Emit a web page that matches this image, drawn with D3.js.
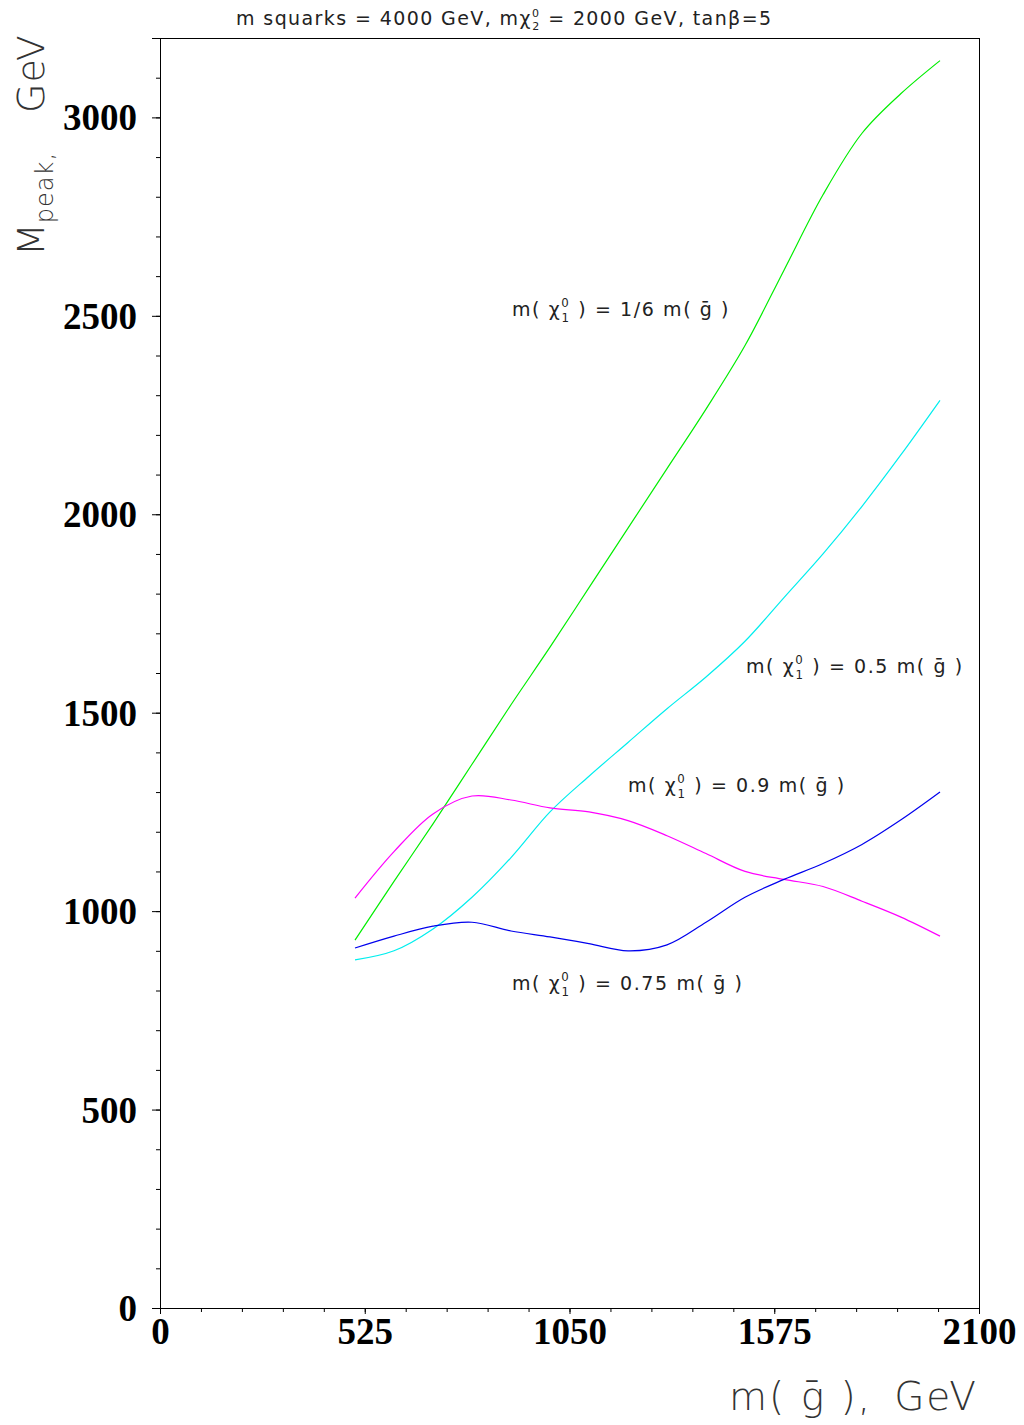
<!DOCTYPE html>
<html><head><meta charset="utf-8">
<script src="https://cdn.jsdelivr.net/npm/d3@7"></script>
<style>body{margin:0;background:#fff}svg{display:block}</style>
</head><body>
<svg id="c" width="1024" height="1425"></svg>
<script>
const gluinoMass = [500,600,700,800,900,1000,1100,1200,1300,1400,1500,1600,1700,1800,1900,2000];
const seriesSixth   = [927,1075,1220,1370,1520,1665,1815,1965,2115,2265,2425,2615,2805,2960,3060,3143];
const seriesHalf    = [877,900,955,1035,1135,1250,1340,1425,1510,1590,1680,1790,1900,2020,2150,2287];
const seriesPt9     = [1033,1150,1245,1290,1280,1260,1250,1228,1190,1145,1100,1080,1062,1025,985,937];
const seriesPt75    = [907,937,962,972,950,935,918,900,915,972,1035,1080,1120,1168,1230,1300];
const xTickLabels = [0,525,1050,1575,2100];
const yTickLabels = [0,500,1000,1500,2000,2500,3000];

const svg = d3.select("#c");
const x = d3.scaleLinear().domain([0,2100]).range([160,979]);
const y = d3.scaleLinear().domain([0,3200]).range([1308,38]);

// frame
svg.append("rect").attr("x",160).attr("y",38).attr("width",819).attr("height",1270)
  .attr("fill","none").attr("stroke","#000").attr("stroke-width",1).attr("shape-rendering","crispEdges");

// y axis
const yMinor = d3.range(0,3201,100);
svg.append("g").attr("transform","translate(160,0)")
  .call(d3.axisLeft(y).tickValues(yMinor).tickSize(4).tickFormat(""))
  .call(g=>g.select(".domain").remove());
const ya = svg.append("g").attr("transform","translate(160,0)")
  .call(d3.axisLeft(y).tickValues(yTickLabels).tickSize(8).tickPadding(15).tickFormat(d3.format("d")));
ya.select(".domain").attr("shape-rendering","crispEdges");
ya.selectAll("text").attr("font-family","'Liberation Serif','Times New Roman',serif")
  .attr("font-weight","bold").attr("font-size",37).attr("fill","#000").attr("dy","0.34em");

// x axis
const xMinor = d3.range(0,2101,105);
svg.append("g").attr("transform","translate(0,1308)")
  .call(d3.axisBottom(x).tickValues(xMinor).tickSize(4).tickFormat(""))
  .call(g=>g.select(".domain").remove());
const xa = svg.append("g").attr("transform","translate(0,1308)")
  .call(d3.axisBottom(x).tickValues(xTickLabels).tickSize(6).tickPadding(4).tickFormat(d3.format("d")));
xa.select(".domain").attr("shape-rendering","crispEdges");
xa.selectAll("text").attr("font-family","'Liberation Serif','Times New Roman',serif")
  .attr("font-weight","bold").attr("font-size",37).attr("fill","#000");

// curves
const line = d3.line().x((d,i)=>x(gluinoMass[i])).y(d=>y(d)).curve(d3.curveCatmullRom.alpha(0.5));
const curves = [
  {v:seriesSixth, c:"#00ee00"},
  {v:seriesHalf, c:"#00eeee"},
  {v:seriesPt9, c:"#ff00ff"},
  {v:seriesPt75, c:"#0000ee"}
];
curves.forEach(s=>{
  svg.append("path").attr("d",line(s.v)).attr("fill","none").attr("stroke",s.c).attr("stroke-width",1.2);
});

const FONT = "'DejaVu Sans',sans-serif";
// labels with chi
function chiLabel(xp, yp, rest, fs){
  const t = svg.append("text").attr("x",xp).attr("y",yp).attr("font-family",FONT)
    .attr("font-size",fs).attr("fill","#222").attr("letter-spacing",1.6);
  t.append("tspan").text("m( χ");
  t.append("tspan").attr("font-size",fs*0.62).attr("dy",-fs*0.45).text("0");
  t.append("tspan").attr("font-size",fs*0.62).attr("dx",-fs*0.47).attr("dy",fs*0.75).text("1");
  t.append("tspan").attr("dy",-fs*0.30).text(" ) = " + rest + " m( ḡ )");
}
chiLabel(512, 316, "1/6", 19);
chiLabel(746, 673, "0.5", 19);
chiLabel(628, 792, "0.9", 19);
chiLabel(512, 990, "0.75", 19);

// title
const tt = svg.append("text").attr("x",236).attr("y",25).attr("font-family",FONT)
  .attr("font-size",19).attr("fill","#222").attr("letter-spacing",1.4);
tt.append("tspan").text("m squarks = 4000 GeV, mχ");
tt.append("tspan").attr("font-size",11).attr("dy",-8).text("0");
tt.append("tspan").attr("font-size",11).attr("dx",-8).attr("dy",13).text("2");
tt.append("tspan").attr("dy",-5).text(" = 2000 GeV, tanβ=5");

// x axis title
const xt = svg.append("text").attr("x",978).attr("y",1410).attr("text-anchor","end")
  .attr("font-family",FONT).attr("font-size",39).attr("fill","#333").attr("font-weight","200")
  .attr("letter-spacing",2);
xt.append("tspan").text("m( ḡ ),");
xt.append("tspan").attr("dx",22).text("GeV");

// y axis title
const yt = svg.append("text").attr("transform","translate(44,256) rotate(-90)")
  .attr("font-family",FONT).attr("font-size",38).attr("fill","#333").attr("font-weight","200");
yt.append("tspan").text("M");
yt.append("tspan").attr("font-size",24).attr("dy",9).attr("letter-spacing",1).text("peak,");
svg.append("text").attr("transform","translate(44,113) rotate(-90)")
  .attr("font-family",FONT).attr("font-size",38).attr("fill","#333").attr("font-weight","200")
  .attr("letter-spacing",1).text("GeV");
</script>
</body></html>
